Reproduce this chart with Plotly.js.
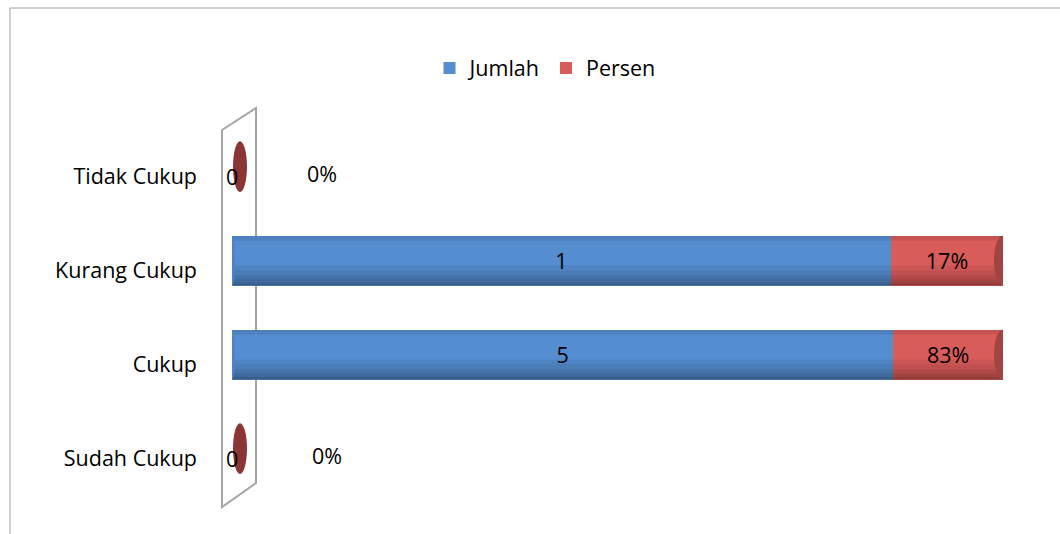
<!DOCTYPE html>
<html><head><meta charset="utf-8">
<script src="https://cdn.plot.ly/plotly-3.0.1.min.js"></script>
<style>body{margin:0;background:#fff}#chart{width:1060px;height:534px}</style>
</head><body><div id="chart"></div>
<script>
const categories = ['Tidak Cukup','Kurang Cukup','Cukup','Sudah Cukup'];
const jumlah = [0, 1, 5, 0];
const persen = [0, 0.17, 0.83, 0];
const persenLabels = ['0%', '17%', '83%', '0%'];

const total = jumlah.map((j,i)=>j+persen[i]);
const jShare = jumlah.map((j,i)=> total[i] ? j/total[i]*100 : 0);
const pShare = persen.map((p,i)=> total[i] ? p/total[i]*100 : 0);
const idx = categories.map((c,i)=>i);
const BW = 0.53, SH = -0.1;
const font = '"Open Sans", sans-serif';
const FS = 21.5;

const traces = [
  {type:'bar', orientation:'h', name:'Jumlah', y:idx, x:jShare, width:BW, offset:SH-BW/2,
   marker:{color:'#548dd0', line:{width:0}},
   text:jumlah.map((j,i)=> total[i] ? String(j) : ''), textposition:'inside', insidetextanchor:'middle',
   textfont:{color:'#000', size:FS, family:font}},
  {type:'bar', orientation:'h', name:'Persen', y:idx, x:pShare, width:BW, offset:SH-BW/2,
   marker:{color:'#d85c5a', line:{width:0}},
   text:persenLabels.map((t,i)=> total[i] ? t : ''), textposition:'inside', insidetextanchor:'middle',
   textfont:{color:'#000', size:FS, family:font}}
];

const shapes = [];
const px = v => (v-232)/771, py = v => (505-v)/376;
// back wall
shapes.push({type:'path', xref:'paper', yref:'paper', layer:'below',
  path:`M ${px(222)} ${py(130)} L ${px(256)} ${py(108)} L ${px(256)} ${py(483)} L ${px(222)} ${py(507)} Z`,
  line:{color:'#a6a6a6', width:2}});
// outer border
shapes.push({type:'path', xref:'paper', yref:'paper',
  path:`M ${px(10)} ${py(540)} L ${px(10)} ${py(8)} L ${px(1070)} ${py(8)}`,
  line:{color:'#a0a0a0', width:1}});
const annotations = [];
const bands = [[-0.5,-0.4,0.08],[0.1,0.5,0.06],[0.2,0.5,0.06],[0.3,0.5,0.08],[0.38,0.5,0.08],[0.45,0.5,0.1]];
idx.forEach(i=>{
  const c = i + SH;
  if (total[i]) {
    const end = jShare[i] + pShare[i];
    bands.forEach(b=>shapes.push({type:'rect', xref:'x', yref:'y', x0:0, x1:end,
      y0:c+BW*b[0], y1:c+BW*b[1], fillcolor:`rgba(0,0,0,${b[2]})`, line:{width:0}, layer:'above'}));
    shapes.push({type:'circle', xref:'x', yref:'y', xsizemode:'pixel', xanchor:0,
      x0:-3, x1:3, y0:c-BW/2, y1:c+BW/2, fillcolor:'#4f84c2', line:{width:0}, layer:'above'});
    shapes.push({type:'circle', xref:'x', yref:'y', xsizemode:'pixel', xanchor:end,
      x0:-9, x1:8, y0:c-BW/2, y1:c+BW/2, fillcolor:'#a24441', line:{width:0}, layer:'above'});
  } else {
    shapes.push({type:'circle', xref:'x', yref:'y', xsizemode:'pixel', xanchor:0,
      x0:1, x1:15, y0:c-0.27, y1:c+0.27, fillcolor:'#8b3535', line:{width:0}});
    annotations.push({x:0, y:i, xref:'x', yref:'y', text:String(jumlah[i]), showarrow:false,
      font:{size:FS, family:font, color:'#000'}});
    annotations.push({x:0, y:i, xref:'x', yref:'y', text:persenLabels[i], showarrow:false,
      xshift: 90 + (i===3?5:0), yshift:3, font:{size:FS, family:font, color:'#000'}});
  }
});

const layout = {
  width:1060, height:534,
  margin:{l:232, r:57, t:129, b:29},
  paper_bgcolor:'#fff', plot_bgcolor:'rgba(0,0,0,0)',
  barmode:'stack',
  font:{family:font, size:FS, color:'#000'},
  xaxis:{range:[0,100], showgrid:false, zeroline:false, showticklabels:false, showline:false, fixedrange:true},
  yaxis:{type:'linear', range:[3.5,-0.5], tickmode:'array', tickvals:idx, ticktext:categories,
    showgrid:false, zeroline:false, showline:false, ticks:'', ticklabelstandoff:34,
    tickfont:{size:FS, family:font, color:'#000'}},
  legend:{orientation:'h', x:0.406, xanchor:'center', y:1.162, yanchor:'middle',
    font:{size:FS, family:font, color:'#000'}, traceorder:'normal', itemwidth:20},
  showlegend:true,
  shapes:shapes, annotations:annotations
};
Plotly.newPlot('chart', traces, layout, {displayModeBar:false, staticPlot:true});
</script></body></html>
